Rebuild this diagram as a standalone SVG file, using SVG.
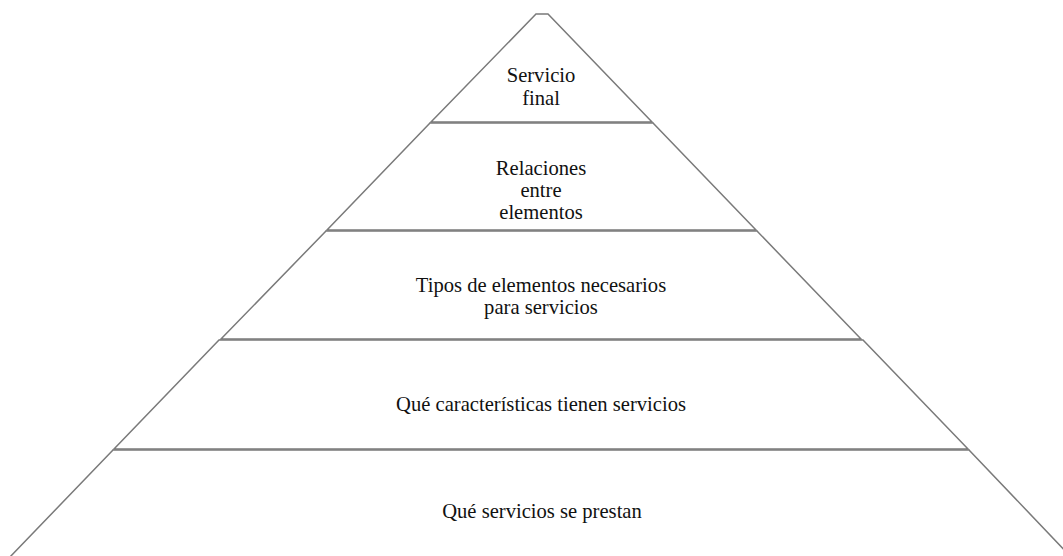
<svg xmlns="http://www.w3.org/2000/svg" width="1063" height="556" viewBox="0 0 1063 556">
  <style>
    .band { fill: #ffffff; stroke: #7a7a7a; stroke-width: 1.5; stroke-linejoin: miter; }
    .lbl { font-family: 'Liberation Serif', 'Times New Roman', serif; font-size: 20.6px; fill: #111111; text-anchor: middle; }
  </style>
  <rect width="1063" height="556" fill="#ffffff"/>
  <g id="level1">
    <polygon class="band" points="536,14 548,14 652,122 431,122"/>
    <text class="lbl" x="541" y="82">Servicio</text>
    <text class="lbl" x="541" y="105">final</text>
  </g>
  <g id="level2">
    <polygon class="band" points="430,123 653,123 756,230 327,230"/>
    <text class="lbl" x="541" y="175">Relaciones</text>
    <text class="lbl" x="541" y="197">entre</text>
    <text class="lbl" x="541" y="219">elementos</text>
  </g>
  <g id="level3">
    <polygon class="band" points="326,231 757,231 861,339 221,339"/>
    <text class="lbl" x="541" y="292">Tipos de elementos necesarios</text>
    <text class="lbl" x="541" y="314">para servicios</text>
  </g>
  <g id="level4">
    <polygon class="band" points="219,340 863,340 968,449 114,449"/>
    <text class="lbl" x="541" y="411">Qué características tienen servicios</text>
  </g>
  <g id="level5">
    <polygon class="band" points="113,450 969,450 1072,558 9,558"/>
    <text class="lbl" x="542" y="518">Qué servicios se prestan</text>
  </g>
  <g id="connectors"></g>
</svg>
